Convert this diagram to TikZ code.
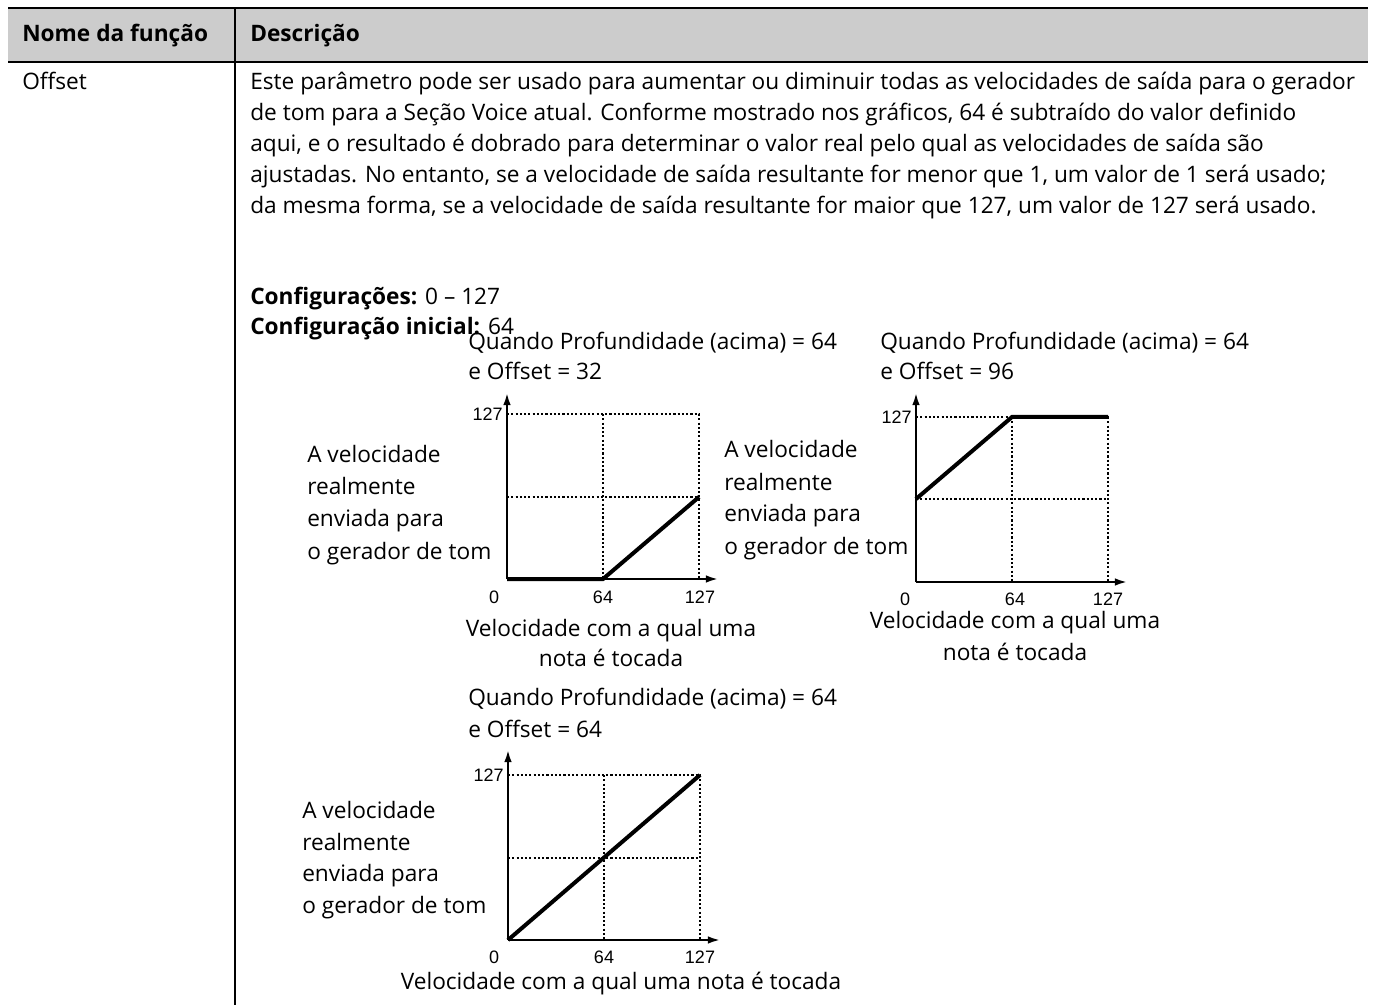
\documentclass[tikz,border=0pt]{standalone}
\usepackage{fontspec}
\setmainfont{Open Sans}
\newfontfamily\arialfont{Liberation Sans}
\usetikzlibrary{arrows.meta}
\tikzset{
    txt/.style={anchor=base west, inner sep=0pt, font=\fontsize{17}{20}\selectfont},
    ctxt/.style={txt, anchor=base},
    tick/.style={inner sep=0pt, font=\arialfont\fontsize{13.5}{15}\selectfont},
    axis/.style={line width=1.5pt, -{Latex[length=3.2mm,width=2mm]}},
    guide/.style={line width=1pt, dash pattern=on 1.6pt off 1.6pt},
    curve/.style={line width=3pt}}

\begin{document}
\begin{tikzpicture}[x=0.75pt,y=-0.75pt]
\useasboundingbox (0,0) rectangle (1375,1005);
% table frame
\fill[gray!40] (8,8) rectangle (1368,62);
\draw[line width=1.5pt] (8,8) -- (1368,8);
\draw[line width=1.5pt] (8,62) -- (1368,62);
\draw[line width=1.5pt] (235,8) -- (235,1005);
\node[txt] (hname) at (22,42) {\bfseries Nome da função};
\node[txt] (hdesc) at (250,42) {\bfseries Descrição};
\node[txt] (offset) at (22,90) {Offset};
% description
\node[txt] (d1) at (250,90) {Este parâmetro pode ser usado para aumentar ou diminuir todas as velocidades de saída para o gerador};
\node[txt] (d2) at (250,121) {de tom para a Seção Voice atual. Conforme mostrado nos gráficos, 64 é subtraído do valor definido};
\node[txt] (d3) at (250,152) {aqui, e o resultado é dobrado para determinar o valor real pelo qual as velocidades de saída são};
\node[txt] (d4) at (250,183) {ajustadas. No entanto, se a velocidade de saída resultante for menor que 1, um valor de 1 será usado;};
\node[txt] (d5) at (250,214) {da mesma forma, se a velocidade de saída resultante for maior que 127, um valor de 127 será usado.};
\node[txt] (cfg) at (250,305) {\bfseries Configurações: \mdseries 0 – 127};
\node[txt] (cfgi) at (250,335) {\bfseries Configuração inicial: \mdseries 64};

%% chart 1: offset 32
\node[txt] (t1a) at (468,350) {Quando Profundidade (acima) = 64};
\node[txt] (t1b) at (468,380) {e Offset = 32};
\node[txt] (v1a) at (307,463) {A velocidade};
\node[txt] (v1b) at (307,495) {realmente};
\node[txt] (v1c) at (307,527) {enviada para};
\node[txt] (v1d) at (307,559) {o gerador de tom};
\node[ctxt] (n1a) at (611,636) {Velocidade com a qual uma};
\node[ctxt] (n1b) at (611,666) {nota é tocada};
\begin{scope}[shift={(507,579)}]
\coordinate (O1) at (0,0);
\coordinate (Y1) at (0,-186);
\coordinate (X1) at (211,0);
\draw[guide] (0,-165) -- (192,-165) -- (192,0);
\draw[guide] (96,-165) -- (96,0);
\draw[guide] (0,-82) -- (192,-82);
\draw[axis] (O1) -- (Y1);
\draw[axis] (O1) -- (X1);
\draw[curve] (O1) -- (96,0) -- (192,-82);
\node[tick, anchor=east] (y127a) at (-4,-165) {127};
\node[tick] (x0a) at (-13,18) {0};
\node[tick] (x64a) at (96,18) {64};
\node[tick] (x127a) at (193,18) {127};
\end{scope}

%% chart 2: offset 96
\node[txt] (t2a) at (880,350) {Quando Profundidade (acima) = 64};
\node[txt] (t2b) at (880,380) {e Offset = 96};
\node[txt] (v2a) at (724,458) {A velocidade};
\node[txt] (v2b) at (724,490) {realmente};
\node[txt] (v2c) at (724,522) {enviada para};
\node[txt] (v2d) at (724,554) {o gerador de tom};
\node[ctxt] (n2a) at (1015,628) {Velocidade com a qual uma};
\node[ctxt] (n2b) at (1015,660) {nota é tocada};
\begin{scope}[shift={(916,582)}]
\coordinate (O2) at (0,0);
\coordinate (Y2) at (0,-189);
\coordinate (X2) at (211,0);
\draw[guide] (0,-165) -- (192,-165) -- (192,0);
\draw[guide] (96,-165) -- (96,0);
\draw[guide] (0,-83) -- (192,-83);
\draw[axis] (O2) -- (Y2);
\draw[axis] (O2) -- (X2);
\draw[curve] (0,-83) -- (96,-165) -- (192,-165);
\node[tick, anchor=east] (y127b) at (-4,-165) {127};
\node[tick] (x0b) at (-11,17) {0};
\node[tick] (x64b) at (99,17) {64};
\node[tick] (x127b) at (192,17) {127};
\end{scope}

%% chart 3: offset 64
\node[txt] (t3a) at (468,705) {Quando Profundidade (acima) = 64};
\node[txt] (t3b) at (468,737) {e Offset = 64};
\node[txt] (v3a) at (302,818) {A velocidade};
\node[txt] (v3b) at (302,850) {realmente};
\node[txt] (v3c) at (302,881) {enviada para};
\node[txt] (v3d) at (302,913) {o gerador de tom};
\node[ctxt] (n3a) at (621,989) {Velocidade com a qual uma nota é tocada};
\begin{scope}[shift={(508,940)}]
\coordinate (O3) at (0,0);
\coordinate (Y3) at (0,-190);
\coordinate (X3) at (212,0);
\draw[guide] (0,-165) -- (192,-165) -- (192,0);
\draw[guide] (96,-165) -- (96,0);
\draw[guide] (0,-82) -- (192,-82);
\draw[axis] (O3) -- (Y3);
\draw[axis] (O3) -- (X3);
\draw[curve] (O3) -- (192,-165);
\node[tick, anchor=east] (y127c) at (-4,-165) {127};
\node[tick] (x0c) at (-14,17) {0};
\node[tick] (x64c) at (96,17) {64};
\node[tick] (x127c) at (192,17) {127};
\end{scope}
\end{tikzpicture}
\end{document}
